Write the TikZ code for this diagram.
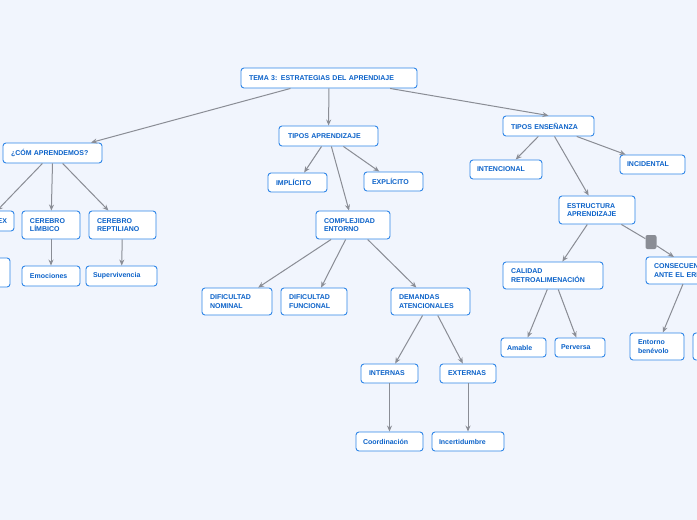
\documentclass[tikz,border=0pt]{standalone}
\usepackage{fontspec}
\setmainfont{Liberation Sans}
\usetikzlibrary{arrows.meta}
\begin{document}
\begin{tikzpicture}[x=1pt,y=-1pt,
  bx/.style={draw=bord,line width=0.9pt,fill=white,rounded corners=3pt,font=\bfseries\fontsize{7}{8.5}\selectfont,text=txt,inner sep=0pt},
  ar/.style={draw=lin,line width=1pt,-{Stealth[length=6pt,width=5pt]}}]
\definecolor{bg}{HTML}{F1F5FD}
\definecolor{bord}{HTML}{2F86E8}
\definecolor{txt}{HTML}{0B62C9}
\definecolor{lin}{HTML}{8A8D95}
\useasboundingbox (0,0) rectangle (697,520);
\fill[bg] (0,0) rectangle (697,520);
\clip (0,0) rectangle (697,520);
\newcommand\bx[7]{\node[bx,minimum width=#4-#2,minimum height=#5-#3,text width=#4-#2-#7,align=left,anchor=center] (#1) at ({(#2+#4)/2},{(#3+#5)/2}) {#6};}
\bx{tema}{241}{68}{417}{88}{TEMA 3: ESTRATEGIAS DEL APRENDIAJE}{16}
\bx{como}{3}{143}{102}{163}{¿CÓM APRENDEMOS?}{16}
\bx{tap}{279}{126}{378}{146}{TIPOS APRENDIZAJE}{18}
\bx{ten}{503}{116}{594}{136}{TIPOS ENSEÑANZA}{16}
\bx{cortex}{-40}{211}{14}{231}{\hfill CORTEX}{14}
\bx{lx}{-40}{258}{10}{287}{}{14}
\bx{lim}{22}{211}{80}{239}{CEREBRO\\LÍMBICO}{16}
\bx{rep}{89}{211}{156}{239}{CEREBRO\\REPTILIANO}{16}
\bx{emo}{22}{266}{80}{286}{Emociones}{16}
\bx{sup}{86}{266}{157}{286}{Supervivencia}{14}
\bx{imp}{268}{173}{327}{192}{IMPLÍCITO}{16}
\bx{exp}{364}{172}{423}{191}{EXPLÍCITO}{16}
\bx{comp}{316}{211}{390}{239}{COMPLEJIDAD\\ENTORNO}{16}
\bx{dn}{202}{288}{272}{315}{DIFICULTAD\\NOMINAL}{16}
\bx{df}{281}{288}{347}{315}{DIFICULTAD\\FUNCIONAL}{16}
\bx{da}{391}{288}{470}{315}{DEMANDAS\\ATENCIONALES}{16}
\bx{int}{361}{364}{418}{383}{INTERNAS}{16}
\bx{ext}{440}{364}{496}{383}{EXTERNAS}{16}
\bx{coo}{356}{432}{423}{451}{Coordinación}{14}
\bx{inc}{432}{432}{504}{451}{Incertidumbre}{14}
\bx{inten}{470}{160}{542}{179}{INTENCIONAL}{14}
\bx{incid}{620}{155}{685}{174}{INCIDENTAL}{14}
\bx{est}{559}{196}{635}{224}{ESTRUCTURA\\APRENDIZAJE}{16}
\bx{cal}{503}{262}{603}{289}{CALIDAD\\RETROALIMENACIÓN}{16}
\bx{cons}{646}{257}{760}{284}{CONSECUENCIAS\\ANTE EL ERROR}{16}
\bx{ama}{501}{338}{546}{357}{Amable}{12}
\bx{per}{555}{338}{605}{357}{Perversa}{12}
\bx{ben}{630}{333}{684}{360}{Entorno\\benévolo}{16}
\bx{rx}{693}{333}{750}{360}{}{16}
\node[fill=lin,rounded corners=2pt,minimum width=11pt,minimum height=14pt,inner sep=0pt] (sq) at (651,242) {};
\coordinate (c1) at (683,284);
\coordinate (c2) at (698,284);
\draw[ar] (tema) -- (como);
\draw[ar] (tema) -- (tap);
\draw[ar] (tema) -- (ten.north);
\draw[ar] (como) -- (cortex);
\draw[ar] (como.south) -- (lim);
\draw[ar] (como) -- (rep);
\draw[ar] (lim) -- (emo);
\draw[ar] (rep) -- (sup);
\draw[ar] (tap) -- (imp);
\draw[ar] (tap) -- (exp);
\draw[ar] (tap) -- (comp);
\draw[ar] (comp) -- (dn);
\draw[ar] (comp) -- (df);
\draw[ar] (comp) -- (da);
\draw[ar] (da) -- (int);
\draw[ar] (da) -- (ext);
\draw[ar] (int) -- (coo);
\draw[ar] (ext) -- (inc);
\draw[ar] (ten) -- (inten);
\draw[ar] (ten) -- (incid);
\draw[ar] (ten) -- (est);
\draw[ar] (est) -- (cal);
\draw[draw=lin,line width=1pt] (est) -- (sq);
\draw[ar] (sq) -- (674,257);
\draw[ar] (cal) -- (ama);
\draw[ar] (cal) -- (per);
\draw[ar] (c1) -- (ben);
\draw[ar] (c2) -- (rx);
\end{tikzpicture}
\end{document}
